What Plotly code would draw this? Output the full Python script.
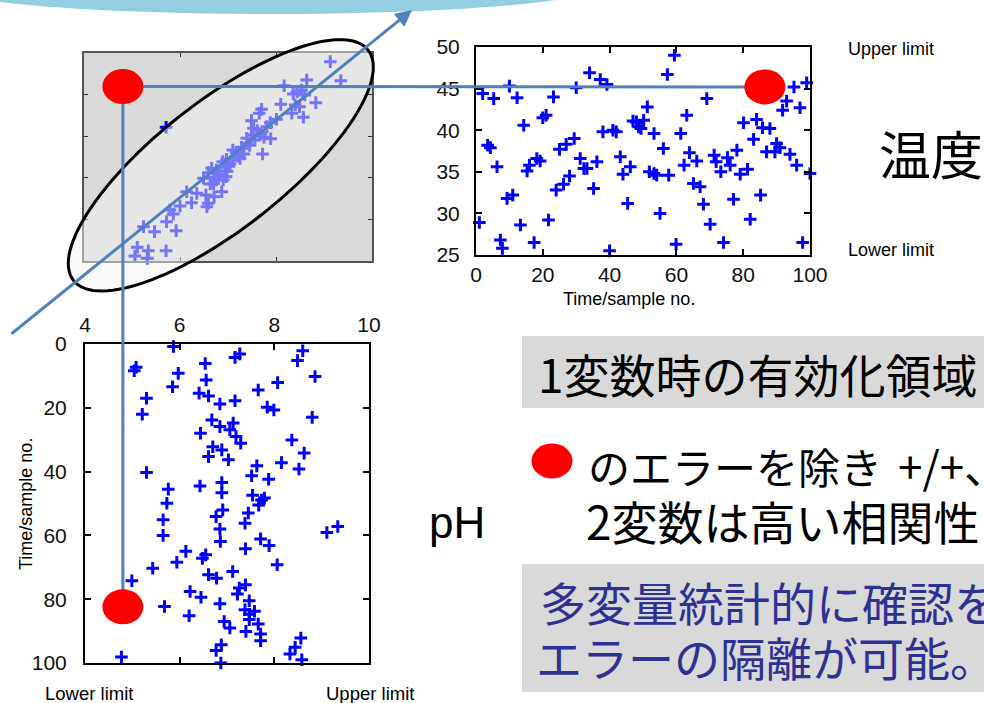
import numpy as np
import plotly.graph_objects as go

W, H = 984, 703

# ---------------------------------------------------------------- data
# temperature log: sample number and temperature
temp_sample = [1, 2, 3.5, 4.3, 5.3, 6.3, 7.3, 7.9, 9.3, 10, 11, 12.3, 13.3, 14.3, 15.3, 16,
               17.4, 18.2, 19.2, 20, 21, 21.7, 23.2, 24, 25, 26.2, 27, 28, 29.4, 30, 31.2,
               32.3, 33.2, 34, 35.2, 36.2, 37.2, 38, 39.2, 40, 41, 42, 43.2, 44, 45.4, 46.2,
               47, 48, 48.7, 49.4, 50.2, 51.3, 51.9, 53.3, 53.3, 54.1, 55.1, 56.1, 57.3, 57.7,
               59.4, 59.9, 61.3, 62.3, 63.1, 63.9, 65.1, 66.1, 67.1, 68.1, 69.1, 70.1, 71.3,
               71.9, 73.3, 74.1, 75.3, 76.1, 77.1, 78.1, 79.1, 80.1, 81.3, 82.1, 83.1, 84.0,
               85.2, 85.8, 87.0, 88.0, 89.5, 90.0, 91.0, 91.8, 93.0, 94.0, 95.2, 96.0, 97.0,
               97.8, 99.0, 100]
temp_value = [28.9, 44.4, 38.2, 37.9, 43.8, 35.6, 26.8, 25.8, 31.8, 45.3, 32.2, 43.9, 28.6,
              40.6, 35.1, 35.8, 26.5, 36.6, 36.3, 41.5, 41.8, 29.2, 44.0, 32.8, 37.7, 33.5,
              38.3, 34.5, 39.0, 45.1, 36.6, 35.4, 35.4, 46.9, 33.0, 36.2, 46.1, 39.8, 45.5,
              25.5, 40.0, 39.8, 36.8, 34.7, 31.2, 35.6, 41.1, 41.0, 40.4, 40.2, 41.2, 42.8,
              35.0, 39.6, 34.8, 34.6, 30.0, 37.8, 46.7, 34.6, 49.0, 26.3, 39.6, 35.8, 41.8,
              37.3, 33.6, 36.3, 33.2, 31.1, 43.8, 28.7, 37.0, 36.2, 35.0, 26.5, 36.7, 35.8,
              31.7, 37.6, 34.7, 40.9, 35.3, 29.3, 38.9, 41.3, 32.2, 40.3, 37.4, 40.2, 37.4,
              38.4, 37.9, 42.4, 43.5, 37.1, 45.2, 35.8, 42.7, 26.5, 45.7, 34.8]

# pH log: pH value and sample number
ph_value = [5.87, 8.60, 7.27, 7.17, 8.49, 6.54, 5.08, 5.04, 5.97, 8.86, 6.56, 8.07, 5.85, 7.66,
            6.41, 6.61, 5.30, 7.17, 6.85, 7.85, 7.99, 5.21, 8.80, 6.68, 7.13, 6.85, 7.06, 6.44,
            7.19, 8.37, 7.29, 6.70, 6.89, 8.63, 6.61, 7.03, 8.15, 7.63, 8.52, 5.30, 7.52, 7.88,
            6.89, 6.43, 5.76, 6.89, 7.54, 7.79, 7.73, 5.73, 7.67, 6.91, 7.45, 6.77, 5.65, 7.38,
            9.34, 6.85, 9.11, 5.65, 7.71, 6.86, 7.89, 7.39, 6.13, 6.55, 6.48, 5.94, 8.06, 5.43,
            7.12, 6.61, 6.78, 4.99, 7.39, 7.26, 6.22, 7.22, 6.45, 7.47, 6.85, 5.68, 7.38, 7.58,
            7.47, 6.20, 7.47, 6.94, 7.66, 7.06, 7.40, 7.71, 8.56, 7.71, 6.88, 8.44, 6.77, 8.33,
            4.77, 8.58, 6.87]
ph_sample = [0.8, 2.1, 3.1, 4.2, 5.2, 6.1, 7.3, 8.4, 9.2, 10.2, 11.3, 12.1, 13.4, 14.4, 15.4,
             16.3, 17.0, 17.8, 18.8, 19.8, 20.7, 22.0, 23.0, 23.8, 24.8, 25.9, 26.9, 28.0, 29.0,
             30.1, 31.1, 32.2, 33.2, 34.2, 35.3, 36.3, 37.2, 38.2, 39.2, 40.3, 41.3, 42.4, 43.4,
             44.5, 45.5, 46.6, 47.4, 48.3, 48.9, 49.9, 50.5, 52.0, 53.0, 54.1, 55.1, 56.2, 57.2,
             58.0, 59.1, 60.0, 61.1, 61.9, 63.2, 64.2, 65.0, 66.1, 67.2, 68.4, 69.2, 70.3, 71.3,
             72.3, 73.4, 74.2, 75.5, 76.5, 77.6, 78.4, 79.4, 80.5, 81.4, 82.3, 83.3, 83.8, 84.7,
             85.2, 86.4, 87.0, 87.8, 89.0, 90.1, 90.9, 92.2, 93.0, 94.3, 95.1, 96.1, 97.2, 98.1,
             99.0, 100.0]

# pH / temperature pairs
pair_ph = [9.13, 9.35, 8.64, 8.17, 8.36, 8.44, 8.53, 8.60, 8.40, 8.83, 8.10, 8.49, 8.33, 8.57,
           7.70, 7.65, 7.88, 7.53, 7.61, 7.68, 7.49, 7.75, 7.89, 7.56, 7.39, 7.72, 7.28, 7.33,
           7.17, 7.10, 7.25, 6.97, 6.89, 7.04, 6.94, 6.76, 6.66, 6.82, 6.71, 6.59, 6.49, 6.90,
           6.96, 6.87, 6.63, 6.54, 6.71, 6.59, 6.14, 6.24, 6.00, 5.79, 5.86, 5.72, 5.92, 5.47,
           5.24, 5.11, 5.34, 5.71, 5.06, 5.32, 7.49, 8.01, 7.39, 7.81, 7.11, 6.76, 6.35, 6.56,
           7.02, 6.98, 7.20, 6.80, 7.45, 6.70, 5.71]
pair_temp = [48.96, 46.67, 46.75, 46.07, 45.07, 45.35, 45.55, 44.95, 43.75, 44.03, 43.83, 43.55,
             42.75, 42.27, 43.23, 42.75, 41.63, 40.95, 40.67, 40.26, 40.14, 39.86, 39.70, 39.54,
             39.74, 37.86, 38.66, 37.86, 38.02, 38.34, 37.34, 37.22, 36.94, 36.66, 36.26, 35.94,
             36.14, 35.34, 35.06, 35.62, 34.94, 34.74, 35.14, 33.33, 34.25, 32.93, 32.73, 31.93,
             33.33, 32.01, 31.61, 31.13, 30.65, 29.73, 28.65, 28.53, 29.13, 26.64, 26.24, 26.24,
             25.60, 25.32, 41.87, 42.03, 39.14, 41.15, 37.14, 34.74, 33.13, 31.53,
             36.40, 35.80, 37.60, 35.40, 38.90, 34.30, 41.07]

# the flagged sample, as located in each view
flag_pair = (4.81, 45.97)    # (pH, temperature)
flag_temp = (86.5, 45.2)     # (sample, temperature)
flag_ph = (4.8, 82.4)        # (pH, sample)

PH_RANGE = [4, 10]
TEMP_RANGE = [25, 50]
SAMPLE_RANGE = [0, 100]

# ---------------------------------------------------------------- layout helpers
BOX_PAIR = (84, 53, 372, 261)   # left, top, right, bottom (px)
BOX_TEMP = (476, 47, 810, 255)
BOX_PH = (85, 344, 369, 663)

LAT = "Liberation Sans, Arial, sans-serif"
CJK = "Noto Sans CJK JP, sans-serif"
BLUE_LINE = "#4f81bd"
RED = "#ff0000"
NAVY = "#2e3192"


def dom_x(b):
    return [b[0] / W, b[2] / W]


def dom_y(b):
    return [1 - b[3] / H, 1 - b[1] / H]


def to_px(box, xr, yr, x, y):
    l, t, r, b = box
    return (l + (x - xr[0]) / (xr[1] - xr[0]) * (r - l),
            b - (y - yr[0]) / (yr[1] - yr[0]) * (b - t))


def paper(x, y):
    return x / W, 1 - y / H


fig = go.Figure()

marker = dict(symbol="cross-thin", size=9, color="#0000ff",
              line=dict(width=3, color="#0000ff"))

fig.add_trace(go.Scatter(x=pair_ph, y=pair_temp, mode="markers", marker=marker,
                         xaxis="x", yaxis="y", cliponaxis=False, hoverinfo="skip"))
fig.add_trace(go.Scatter(x=temp_sample, y=temp_value, mode="markers", marker=marker,
                         xaxis="x2", yaxis="y2", cliponaxis=False, hoverinfo="skip"))
fig.add_trace(go.Scatter(x=ph_value, y=ph_sample, mode="markers", marker=marker,
                         xaxis="x3", yaxis="y3", cliponaxis=False, hoverinfo="skip"))

frame = dict(showline=True, linecolor="black", linewidth=2, mirror="ticks",
             ticks="inside", ticklen=6, tickwidth=1.5, tickcolor="black",
             showgrid=False, zeroline=False, automargin=False, fixedrange=True,
             tickfont=dict(family=LAT, size=21, color="#111111"))
small = dict(showline=True, linecolor="#555555", linewidth=1.5, mirror="ticks",
             ticks="inside", ticklen=4, tickwidth=1.2, tickcolor="#333333",
             showgrid=False, zeroline=False, automargin=False, showticklabels=False)

shapes = []

# light-blue banner at the top edge
shapes.append(dict(type="circle", xref="paper", yref="paper",
                   x0=-60 / W, x1=600 / W, y0=1 + 42 / H, y1=1 - 14 / H,
                   fillcolor="#93cfe0", line=dict(width=0), layer="below"))

# grey panel behind the pH/temperature cloud
shapes.append(dict(type="rect", xref="x domain", yref="y domain", x0=0, x1=1, y0=0, y1=1,
                   fillcolor="#d9d9d9", line=dict(width=0), layer="below"))

# confidence ellipse around the cloud
ell_cx, ell_cy = to_px(BOX_PAIR, PH_RANGE, TEMP_RANGE, 6.85, 36.5)
semi_a, semi_b, tilt = 187, 64, np.deg2rad(38)
t = np.linspace(0, 2 * np.pi, 121)
ex = ell_cx + semi_a * np.cos(t) * np.cos(tilt) - semi_b * np.sin(t) * np.sin(tilt)
ey = ell_cy - (semi_a * np.cos(t) * np.sin(tilt) + semi_b * np.sin(t) * np.cos(tilt))
pts = [paper(a, b) for a, b in zip(ex, ey)]
path = "M " + " L ".join(f"{a:.5f},{b:.5f}" for a, b in pts) + " Z"
shapes.append(dict(type="path", xref="paper", yref="paper", path=path,
                   fillcolor="rgba(244,244,244,0.48)", line=dict(color="black", width=3),
                   layer="above"))

# connectors between the flagged sample in each view
p_pair = to_px(BOX_PAIR, PH_RANGE, TEMP_RANGE, *flag_pair)
p_temp = to_px(BOX_TEMP, SAMPLE_RANGE, TEMP_RANGE, *flag_temp)
p_ph = to_px(BOX_PH, PH_RANGE, [100, 0], *flag_ph)
for a, b in [(p_pair, p_temp), (p_pair, p_ph)]:
    (x0, y0), (x1, y1) = paper(*a), paper(*b)
    shapes.append(dict(type="line", xref="paper", yref="paper", x0=x0, y0=y0, x1=x1, y1=y1,
                       line=dict(color=BLUE_LINE, width=3), layer="above"))

# red markers for the flagged sample
dot = dict(type="circle", xsizemode="pixel", ysizemode="pixel",
           x0=-20.5, x1=20.5, y0=-17.5, y1=17.5,
           fillcolor=RED, line=dict(width=0), layer="above")
shapes.append(dict(dot, xref="x", yref="y", xanchor=flag_pair[0], yanchor=flag_pair[1]))
shapes.append(dict(dot, xref="x2", yref="y2", xanchor=flag_temp[0], yanchor=flag_temp[1]))
shapes.append(dict(dot, xref="x3", yref="y3", xanchor=flag_ph[0], yanchor=flag_ph[1]))

# text panels
shapes.append(dict(type="rect", xref="paper", yref="paper",
                   x0=522 / W, x1=1.02, y0=1 - 408 / H, y1=1 - 336 / H,
                   fillcolor="#d9d9d9", line=dict(width=0), layer="below"))
shapes.append(dict(type="rect", xref="paper", yref="paper",
                   x0=522 / W, x1=1.02, y0=1 - 692 / H, y1=1 - 564 / H,
                   fillcolor="#d9d9d9", line=dict(width=0), layer="below"))
# bullet
bx, by = paper(552, 461)
shapes.append(dict(type="circle", xref="paper", yref="paper", xsizemode="pixel",
                   ysizemode="pixel", xanchor=bx, yanchor=by,
                   x0=-20.5, x1=20.5, y0=-17.5, y1=17.5,
                   fillcolor=RED, line=dict(width=0), layer="above"))

annotations = []


def label(text, x, y, size, family=LAT, color="black", xanchor="center", angle=0):
    px_, py_ = paper(x, y)
    annotations.append(dict(text=text, x=px_, y=py_, xref="paper", yref="paper",
                            xanchor=xanchor, yanchor="middle", showarrow=False,
                            textangle=angle, font=dict(family=family, size=size, color=color)))


# principal-direction arrow through the cloud
tip = paper(412, 10)
annotations.append(dict(text="", x=tip[0], y=tip[1], xref="paper", yref="paper",
                        ax=10 - 412, ay=335 - 10, axref="pixel", ayref="pixel",
                        showarrow=True, arrowhead=2, arrowsize=1.1, arrowwidth=3,
                        arrowcolor=BLUE_LINE))

label("Upper limit", 891, 49, 18)
label("Lower limit", 891, 250, 18)
label("温度", 877, 153, 52, family=CJK, xanchor="left")
label("Time/sample no.", 629, 299, 18)
label("Time/sample no.", 26, 504, 18, angle=-90)
label("Lower limit", 89, 693, 18.5)
label("Upper limit", 370, 693, 18.5)
label("pH", 457, 522, 44)

label("1変数時の有効化領域", 536, 373, 46, family=CJK, xanchor="left")
label("のエラーを除き", 586, 465, 42, family=CJK, xanchor="left")
label("+/+、", 896, 465, 44, family=CJK, xanchor="left")
label("2変数は高い相関性", 584, 520, 46, family=CJK, xanchor="left")
label("多変量統計的に確認を", 538, 601, 46, family=CJK, color=NAVY, xanchor="left")
label("エラーの隔離が可能。", 534, 656, 46, family=CJK, color=NAVY, xanchor="left")

fig.update_layout(
    width=W, height=H,
    margin=dict(l=0, r=0, t=0, b=0),
    paper_bgcolor="white", plot_bgcolor="rgba(0,0,0,0)",
    showlegend=False,
    xaxis=dict(small, domain=dom_x(BOX_PAIR), range=PH_RANGE, tickvals=[6, 8], anchor="y"),
    yaxis=dict(small, domain=dom_y(BOX_PAIR), range=TEMP_RANGE,
               tickvals=[30, 35, 40, 45], anchor="x"),
    xaxis2=dict(frame, domain=dom_x(BOX_TEMP), range=SAMPLE_RANGE, dtick=20, anchor="y2",
                ticklabelstandoff=0),
    yaxis2=dict(frame, domain=dom_y(BOX_TEMP), range=TEMP_RANGE, dtick=5, anchor="x2",
                ticklabelstandoff=10),
    xaxis3=dict(frame, domain=dom_x(BOX_PH), range=PH_RANGE, dtick=2, anchor="y3",
                side="top", ticklabelstandoff=2),
    yaxis3=dict(frame, domain=dom_y(BOX_PH), range=[100, 0], dtick=20, anchor="x3",
                ticklabelstandoff=12),
    shapes=shapes,
    annotations=annotations,
)

fig.write_html("out.html", config={"displayModeBar": False})
